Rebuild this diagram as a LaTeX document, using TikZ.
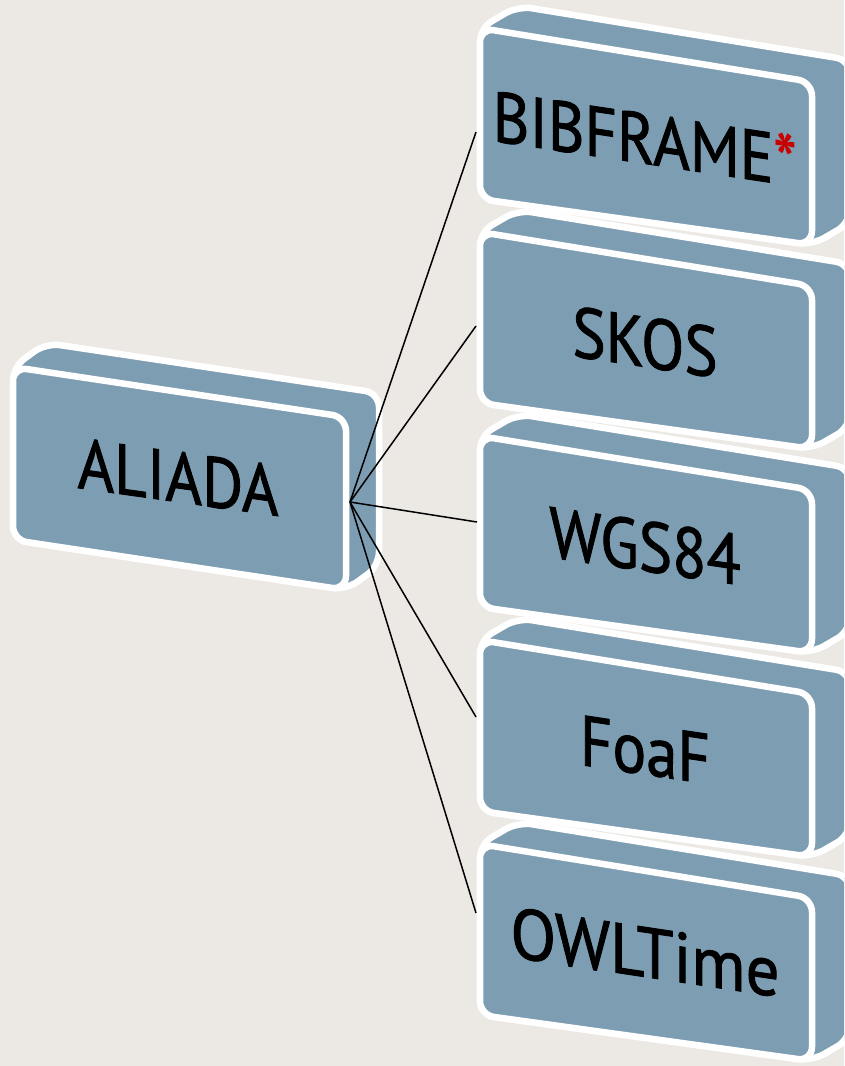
\documentclass[tikz,border=0pt]{standalone}
\usepackage{fontspec}
\setmainfont{PT Sans}
\newfontfamily\boxfont{PT Sans}[FakeBold=1.3]
\newfontfamily\starfont{PT Sans}
\definecolor{paper}{RGB}{236,233,228}
\definecolor{slate}{RGB}{125,157,178}
\definecolor{starred}{RGB}{200,0,0}
\tikzset{
  face/.style={fill=slate, draw=white, line width=6.5pt, rounded corners=14pt, line join=round},
  label3d/.style={font=\boxfont\fontsize{63}{70}\selectfont, text=black, transform shape, inner sep=0pt},
  link/.style={draw=black, line width=1.5pt},
}
% extruded box: #1,#2 front top-left; #3 width; #4 left height;
% #5 drop of the top edge; #6 drop of the bottom edge; #7,#8 depth offset
\newcommand{\cuboid}[8]{%
  \path[face] (#1,#2) -- ++(#7,#8) -- ++(#3,#5) -- ++(0,#4+#6-#5)
     -- ++({-(#7)},{-(#8)}) -- ++({-(#3)},{-(#6)}) -- cycle;
  \path[face] (#1,#2) -- ++(#3,#5) -- ++(0,#4+#6-#5) -- ++({-(#3)},{-(#6)}) -- cycle;
}
\begin{document}
\begin{tikzpicture}[x=1pt,y=-1pt]
  \useasboundingbox (0,0) rectangle (844,1066);
  \clip (0,0) rectangle (844,1066);
  \fill[paper] (0,0) rectangle (844,1066);

  % hub box
  \cuboid{13}{367}{333}{173}{50}{50}{33}{-24}
  \begin{scope}[shift={(178,477)}, yslant=-0.14, yscale=1.13]
    \node[label3d] (aliada) {ALIADA};
  \end{scope}

  % vocabulary boxes
  \cuboid{480}{28}{332}{171}{54}{46}{38}{-22}
  \begin{scope}[shift={(645,138)}, yslant=-0.15, yscale=1.13]
    \node[label3d] (bibframe) {BIBFRAME{\starfont\bfseries\color{starred}*}};
  \end{scope}

  \cuboid{480}{232}{332}{171}{54}{46}{38}{-22}
  \begin{scope}[shift={(645,342)}, yslant=-0.15, yscale=1.13]
    \node[label3d] (skos) {SKOS};
  \end{scope}

  \cuboid{480}{436}{332}{171}{54}{46}{38}{-22}
  \begin{scope}[shift={(645,546)}, yslant=-0.15, yscale=1.13]
    \node[label3d] (wgs) {WGS84};
  \end{scope}

  \cuboid{480}{640}{332}{171}{54}{46}{38}{-22}
  \begin{scope}[shift={(645,750)}, yslant=-0.15, yscale=1.13]
    \node[label3d] (foaf) {FoaF};
  \end{scope}

  \cuboid{480}{844}{332}{171}{54}{46}{38}{-22}
  \begin{scope}[shift={(645,952)}, yslant=-0.15, yscale=1.13]
    \node[label3d, xscale=1.06] (owltime) {OWLTime};
  \end{scope}

  % connector ends
  \coordinate (hub) at (350,502);
  \coordinate (bibframe-w) at (476,132);
  \coordinate (skos-w) at (476,326);
  \coordinate (wgs-w) at (477,522);
  \coordinate (foaf-w) at (476,717);
  \coordinate (owltime-w) at (476,913);

  \draw[link] (hub) -- (bibframe-w);
  \draw[link] (hub) -- (skos-w);
  \draw[link] (hub) -- (wgs-w);
  \draw[link] (hub) -- (foaf-w);
  \draw[link] (hub) -- (owltime-w);
\end{tikzpicture}
\end{document}
